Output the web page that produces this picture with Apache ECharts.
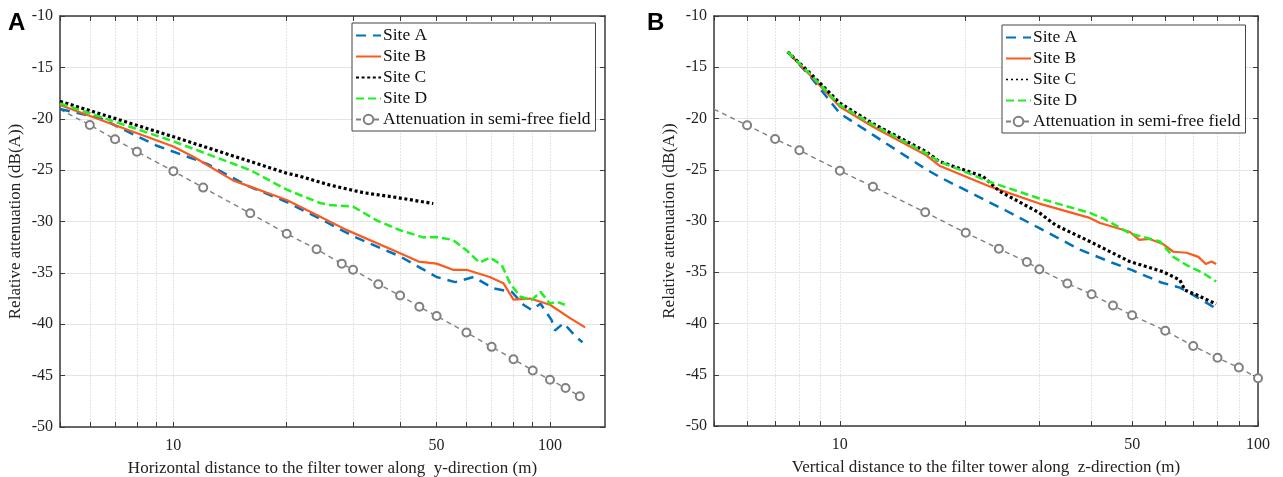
<!DOCTYPE html>
<html>
<head>
<meta charset="utf-8">
<script src="https://cdn.jsdelivr.net/npm/echarts@6/dist/echarts.min.js"></script>
<style>
html,body{margin:0;padding:0;background:#fff;}
#chart{width:1283px;height:477px;}
</style>
</head>
<body>
<div id="chart"></div>
<script>
// ---------- DATA ----------
const seriesNames = ['Site A', 'Site B', 'Site C', 'Site D', 'Attenuation in semi-free field'];
const yTicks = [-50, -45, -40, -35, -30, -25, -20, -15, -10];
const xTickValues = [5, 6, 7, 8, 9, 10, 20, 30, 40, 50, 60, 70, 80, 90, 100];
const xLabelValues = [10, 50, 100];

// Panel A (y-direction)
const A_siteA_x = [5, 6.4, 9, 12.3, 15.8, 20, 25.3, 30.3, 40, 50, 56, 62.7, 70.7, 79.2, 85, 89.3, 94.4, 101, 103, 108.8, 117, 122];
const A_siteA_y = [-19.05, -19.95, -22.6, -24.4, -26.55, -28.1, -30.0, -31.5, -33.4, -35.4, -35.9, -35.4, -36.5, -36.85, -38.1, -38.6, -38.0, -39.6, -40.6, -39.9, -41.2, -41.75];
const A_siteB_x = [5, 10, 11.3, 14.4, 20, 26, 28.9, 40, 44.8, 50, 55.3, 60, 69.2, 75.2, 80, 88.6, 100, 113.6, 124];
const A_siteB_y = [-18.67, -22.7, -23.7, -26.0, -27.9, -30.0, -30.84, -33.1, -33.9, -34.1, -34.7, -34.7, -35.4, -36.0, -37.6, -37.5, -38.1, -39.45, -40.3];
const A_siteC_x = [5, 10, 20, 21.7, 26, 32, 39, 49];
const A_siteC_y = [-18.3, -21.75, -25.3, -25.6, -26.45, -27.2, -27.65, -28.25];
const A_siteD_x = [5, 10, 16, 20, 24.5, 26, 30, 34.7, 40, 46.1, 50, 55.3, 60, 65, 69.3, 74.5, 78.3, 83.3, 89.3, 94.4, 100, 104, 109.5];
const A_siteD_y = [-18.5, -22.2, -25.0, -26.9, -28.2, -28.4, -28.55, -29.9, -30.85, -31.55, -31.5, -31.8, -32.8, -34.0, -33.5, -34.25, -36.0, -37.3, -37.65, -36.85, -38.0, -37.8, -38.1];
const A_free_x = [5, 6, 7, 8, 10, 12, 16, 20, 24, 28, 30, 35, 40, 45, 50, 60, 70, 80, 90, 100, 110, 120];
const A_free_y = [-19.1, -20.6, -22.0, -23.2, -25.1, -26.7, -29.2, -31.2, -32.7, -34.1, -34.7, -36.1, -37.2, -38.3, -39.2, -40.8, -42.2, -43.4, -44.5, -45.4, -46.2, -47.0];

// Panel B (z-direction)
const B_siteA_x = [7.5, 8.5, 10, 12, 16, 17.3, 25, 30, 37.5, 45, 50, 56.4, 58.7, 65, 69.9, 78, 79.4];
const B_siteA_y = [-13.5, -15.9, -19.5, -21.6, -24.9, -25.7, -29.0, -30.7, -32.8, -34.1, -34.8, -35.7, -36.0, -36.5, -37.2, -38.35, -38.6];
const B_siteB_x = [7.5, 8.5, 10, 12, 16.1, 17.3, 22.9, 30, 39.6, 41.9, 49.3, 52, 55, 59.3, 62.7, 67.5, 72, 75, 77.4, 79.4];
const B_siteB_y = [-13.5, -15.8, -18.85, -20.8, -23.6, -24.6, -26.65, -28.3, -29.7, -30.2, -31.05, -31.85, -31.75, -32.25, -33.0, -33.1, -33.5, -34.2, -33.95, -34.2];
const B_siteC_x = [7.5, 8.5, 10, 12, 16.1, 17.3, 22, 24.1, 30, 32.8, 39.6, 49.3, 59.3, 65, 66.9, 71.3, 79.4];
const B_siteC_y = [-13.5, -15.6, -18.5, -20.5, -23.25, -24.2, -25.65, -27.1, -29.2, -30.4, -32.0, -33.95, -34.95, -35.75, -36.75, -37.2, -38.1];
const B_siteD_x = [7.5, 8.5, 10, 12, 16.1, 17.3, 22.9, 30, 39.6, 42.7, 49.3, 58.3, 62.7, 67.5, 74, 79.4];
const B_siteD_y = [-13.5, -15.7, -18.7, -20.6, -23.4, -24.2, -26.2, -27.8, -29.2, -29.75, -31.2, -32.0, -33.5, -34.3, -35.1, -35.9];
const B_free_x = [5, 6, 7, 8, 10, 12, 16, 20, 24, 28, 30, 35, 40, 45, 50, 60, 70, 80, 90, 100];
const B_free_y = [-19.1, -20.66, -22.0, -23.1, -25.1, -26.65, -29.15, -31.15, -32.7, -34.0, -34.7, -36.1, -37.15, -38.25, -39.2, -40.7, -42.2, -43.35, -44.3, -45.35];

// ---------- CHART ----------
function pairs(xs, ys) { return xs.map((x, i) => [x, ys[i]]); }
function freePairs(xs, ys) {
  return xs.map((x, i) => i === 0 ? { value: [x, ys[i]], symbol: 'none' } : [x, ys[i]]);
}

const FONT = 'Liberation Serif';
const AXIS_COLOR = '#3a3a3a';
const GRID_COLOR = '#e4e4e4';

const styles = [
  { color: '#0072BD', width: 2.5, type: [10, 7] },
  { color: '#FB5A1E', width: 2.2, type: 'solid' },
  { color: '#000000', width: 3.2, type: [3, 2.6] },
  { color: '#1FF01F', width: 2.5, type: [8, 4] },
  { color: '#808080', width: 1.4, type: [5, 4] }
];

function xAxes(gridIndex, max, name) {
  return [
    {
      type: 'log', logBase: 10, gridIndex, min: 5, max, position: 'bottom',
      name, nameLocation: 'middle', nameGap: 33,
      nameTextStyle: { fontFamily: FONT, fontSize: 17, color: '#222' },
      axisLine: { lineStyle: { color: AXIS_COLOR, width: 1.5 } },
      axisTick: { inside: true, length: 5, customValues: xTickValues, lineStyle: { color: AXIS_COLOR } },
      axisLabel: { customValues: xLabelValues, fontFamily: FONT, fontSize: 16, color: '#222', margin: 11 },
      splitLine: { show: true, lineStyle: { color: GRID_COLOR, width: 1, type: [2, 1] } },
      minorTick: { show: false }
    },
    {
      type: 'log', logBase: 10, gridIndex, min: 5, max, position: 'top',
      axisLine: { lineStyle: { color: AXIS_COLOR, width: 1.5 } },
      axisTick: { inside: true, length: 5, customValues: xTickValues, lineStyle: { color: AXIS_COLOR } },
      axisLabel: { show: false },
      splitLine: { show: false }
    }
  ];
}
function yAxes(gridIndex) {
  return [
    {
      type: 'value', gridIndex, min: -50, max: -10, interval: 5, position: 'left',
      name: 'Relative attenuation (dB(A))', nameLocation: 'middle', nameGap: 36,
      nameTextStyle: { fontFamily: FONT, fontSize: 17, color: '#222' },
      axisLine: { show: true, lineStyle: { color: AXIS_COLOR, width: 1.5 } },
      axisTick: { show: true, inside: true, length: 5, lineStyle: { color: AXIS_COLOR } },
      axisLabel: { fontFamily: FONT, fontSize: 16, color: '#222', margin: 7 },
      splitLine: { show: true, lineStyle: { color: GRID_COLOR, width: 1 } }
    },
    {
      type: 'value', gridIndex, min: -50, max: -10, interval: 5, position: 'right',
      axisLine: { show: true, lineStyle: { color: AXIS_COLOR, width: 1.5 } },
      axisTick: { show: true, inside: true, length: 5, lineStyle: { color: AXIS_COLOR } },
      axisLabel: { show: false },
      splitLine: { show: false }
    }
  ];
}

function makeSeries(panel, xi, yi, sets) {
  return sets.map((d, k) => ({
    name: seriesNames[k],
    type: 'line',
    xAxisIndex: xi, yAxisIndex: yi,
    data: k === 4 ? freePairs(d[0], d[1]) : pairs(d[0], d[1]),
    showSymbol: k === 4,
    symbol: k === 4 ? 'emptyCircle' : 'none',
    symbolSize: 8,
    itemStyle: { color: styles[k].color, borderColor: styles[k].color, borderWidth: 1.4 },
    lineStyle: { color: styles[k].color, width: styles[k].width, type: styles[k].type, cap: 'butt' },
    animation: false,
    z: k === 4 ? 1 : 2 + k,
    clip: true
  }));
}

function legend(left, top, cDash) {
  return {
    orient: 'vertical', left, top,
    itemWidth: 25, itemHeight: 12, itemGap: 2,
    padding: [3, 5, 2, 3],
    backgroundColor: '#fff', borderColor: '#444', borderWidth: 1,
    textStyle: { fontFamily: FONT, fontSize: 17.5, color: '#111', lineHeight: 19, padding: [0, 0, 0, -3] },
    data: seriesNames.map((n, k) => {
      if (k === 4) return { name: n, itemStyle: { opacity: 1 } };
      const item = { name: n, itemStyle: { opacity: 0 }, lineStyle: { opacity: 1 } };
      if (k === 2 && cDash) item.lineStyle = { opacity: 1, width: 1.6, type: [2, 3] };
      return item;
    }),
    selectedMode: false
  };
}

const chart = echarts.init(document.getElementById('chart'), null, { renderer: 'canvas' });
chart.setOption({
  animation: false,
  backgroundColor: '#fff',
  grid: [
    { left: 60, top: 16, right: 678, bottom: 50, containLabel: false, outerBoundsMode: 'none' },
    { left: 714, top: 16, right: 25, bottom: 51, containLabel: false, outerBoundsMode: 'none' }
  ],
  xAxis: [
    ...xAxes(0, 140, 'Horizontal distance to the filter tower along  y-direction (m)'),
    ...xAxes(1, 100, 'Vertical distance to the filter tower along  z-direction (m)')
  ],
  yAxis: [...yAxes(0), ...yAxes(1)],
  legend: [legend(352, 23, false), legend(1002, 25, true)],
  graphic: [
    { type: 'text', left: 8, top: 11, style: { text: 'A', font: 'bold 24px "Liberation Sans"', fill: '#000' } },
    { type: 'text', left: 647, top: 11, style: { text: 'B', font: 'bold 24px "Liberation Sans"', fill: '#000' } }
  ],
  series: [
    ...makeSeries('A', 0, 0, [[A_siteA_x, A_siteA_y], [A_siteB_x, A_siteB_y], [A_siteC_x, A_siteC_y], [A_siteD_x, A_siteD_y], [A_free_x, A_free_y]]),
    ...makeSeries('B', 2, 2, [[B_siteA_x, B_siteA_y], [B_siteB_x, B_siteB_y], [B_siteC_x, B_siteC_y], [B_siteD_x, B_siteD_y], [B_free_x, B_free_y]])
  ]
});
</script>
</body>
</html>
